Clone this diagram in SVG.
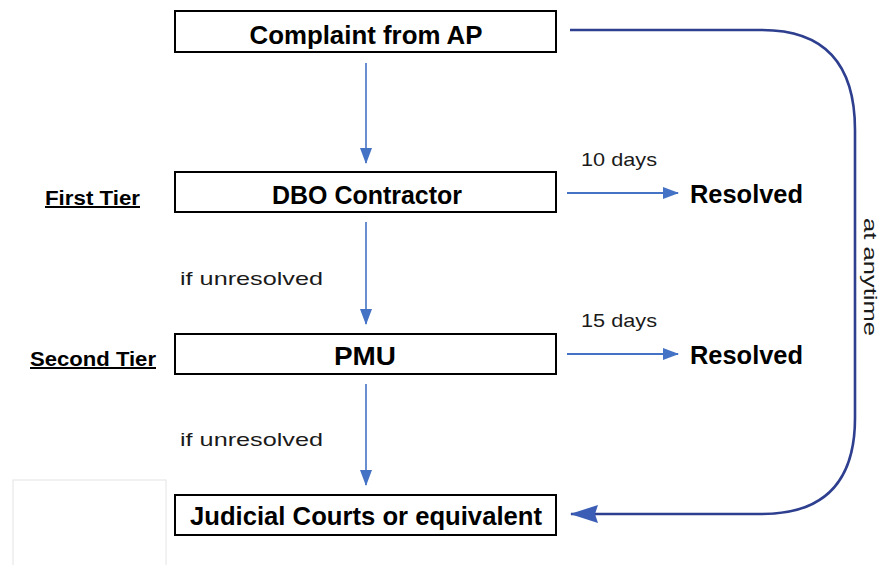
<svg xmlns="http://www.w3.org/2000/svg" width="885" height="565" viewBox="0 0 885 565">
<defs>
<marker id="ah" markerWidth="16" markerHeight="12" refX="15" refY="6" orient="auto" markerUnits="userSpaceOnUse">
<path d="M0,0 L16,6 L0,12 Z" fill="#4472C4"/>
</marker>
<marker id="ahb" markerWidth="28" markerHeight="18" refX="27" refY="9" orient="auto" markerUnits="userSpaceOnUse">
<path d="M0,0 L28,9 L0,18 L3,9 Z" fill="#3B5DB5"/>
</marker>
</defs>
<style>
.box{fill:#fff;stroke:#000;stroke-width:2}
.bt{font-family:"Liberation Sans",Arial,sans-serif;font-weight:bold;font-size:25px;fill:#000;text-anchor:middle}
.lbl{font-family:"Liberation Sans",Arial,sans-serif;font-size:19px;fill:#1a1a1a}
.tier{font-family:"Liberation Sans",Arial,sans-serif;font-weight:bold;font-size:20px;fill:#000;text-decoration:underline}
.res{font-family:"Liberation Sans",Arial,sans-serif;font-weight:bold;font-size:25px;fill:#000}
.ar{stroke:#4472C4;stroke-width:1.6;fill:none}
.ar2{stroke:#4472C4;stroke-width:2.2;fill:none}
</style>
<rect x="13" y="480" width="153" height="90" fill="#fff" stroke="#e4e4e4" stroke-width="1"/>
<g id="connectors">
<line class="ar" x1="366" y1="63" x2="366" y2="163" marker-end="url(#ah)"/>
<line class="ar" x1="366" y1="222" x2="366" y2="324" marker-end="url(#ah)"/>
<line class="ar" x1="366" y1="384" x2="366" y2="485" marker-end="url(#ah)"/>
<line class="ar2" x1="567" y1="193" x2="678" y2="193" marker-end="url(#ah)"/>
<line class="ar2" x1="567" y1="354" x2="678" y2="354" marker-end="url(#ah)"/>
<path d="M570,30 L762,30 Q855,30 855,130 L855,418 Q855,514 762,514 L571,514" fill="none" stroke="#2E3F8F" stroke-width="2.6" marker-end="url(#ahb)"/>
<text class="lbl" x="581" y="166" textLength="76" lengthAdjust="spacingAndGlyphs">10 days</text>
<text class="lbl" x="581" y="327" textLength="76" lengthAdjust="spacingAndGlyphs">15 days</text>
<text class="lbl" x="180" y="285" textLength="143" lengthAdjust="spacingAndGlyphs">if unresolved</text>
<text class="lbl" x="180" y="446" textLength="143" lengthAdjust="spacingAndGlyphs">if unresolved</text>
<text class="lbl" transform="translate(864,218) rotate(90)" textLength="118" lengthAdjust="spacingAndGlyphs">at anytime</text>
</g>
<g id="complaint">
<rect class="box" x="175" y="11" width="381" height="41"/>
<text class="bt" x="366" y="44" textLength="233" lengthAdjust="spacingAndGlyphs">Complaint from AP</text>
</g>
<g id="dbo">
<rect class="box" x="175" y="172" width="381" height="40"/>
<text class="bt" x="367" y="204" textLength="190" lengthAdjust="spacingAndGlyphs">DBO Contractor</text>
</g>
<g id="pmu">
<rect class="box" x="175" y="334" width="381" height="40"/>
<text class="bt" x="365" y="365" textLength="62" lengthAdjust="spacingAndGlyphs">PMU</text>
</g>
<g id="judicial">
<rect class="box" x="175" y="495" width="381" height="40"/>
<text class="bt" x="366" y="525" textLength="352" lengthAdjust="spacingAndGlyphs">Judicial Courts or equivalent</text>
</g>
<g id="first-tier">
<text class="tier" x="45" y="205" textLength="95" lengthAdjust="spacingAndGlyphs">First Tier</text>
</g>
<g id="second-tier">
<text class="tier" x="30" y="366" textLength="126" lengthAdjust="spacingAndGlyphs">Second Tier</text>
</g>
<g id="resolved-1">
<text class="res" x="690" y="203" textLength="113" lengthAdjust="spacingAndGlyphs">Resolved</text>
</g>
<g id="resolved-2">
<text class="res" x="690" y="364" textLength="113" lengthAdjust="spacingAndGlyphs">Resolved</text>
</g>
</svg>
